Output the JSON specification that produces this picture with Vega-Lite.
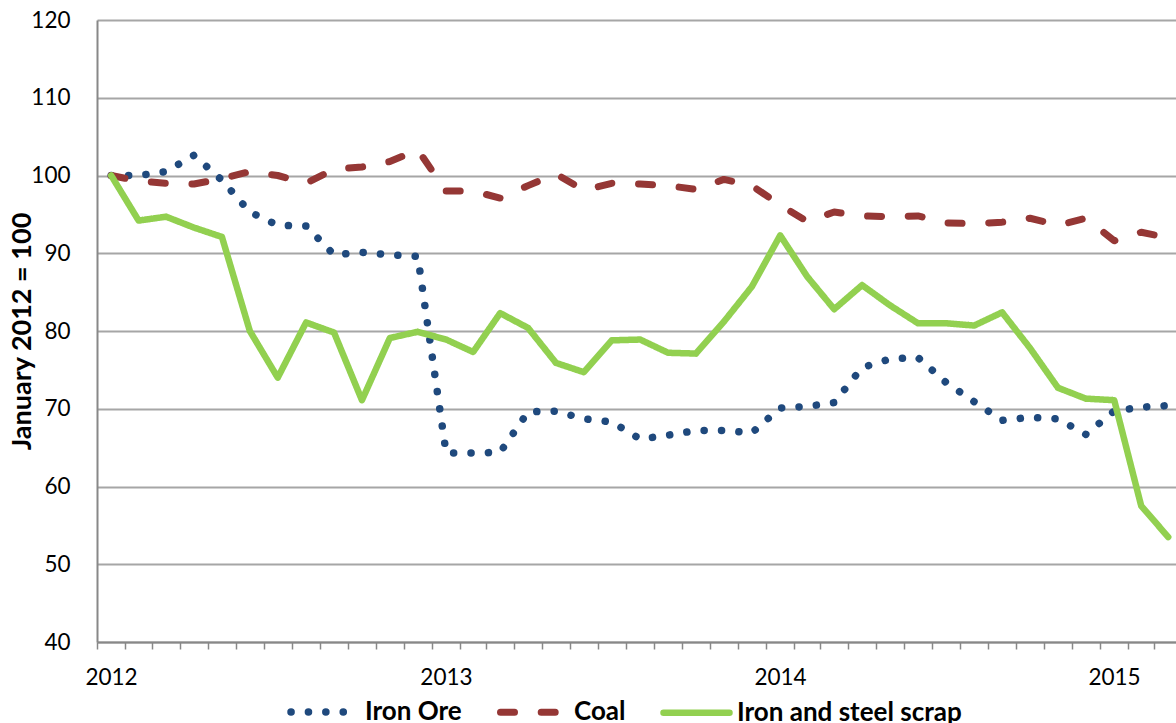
{
  "$schema": "https://vega.github.io/schema/vega-lite/v6.json",
  "width": 1079,
  "height": 622,
  "autosize": {"type": "none"},
  "padding": {"left": 97, "top": 20, "right": 0, "bottom": 81},
  "background": "white",
  "config": {"view": {"stroke": null}, "font": "Lato"},
  "data": {
    "values": [
      {"month": "2012-01", "Iron Ore": 100.0, "Coal": 100.0, "Iron and steel scrap": 100.0},
      {"month": "2012-02", "Iron Ore": 100.0, "Coal": 99.3, "Iron and steel scrap": 94.2},
      {"month": "2012-03", "Iron Ore": 100.5, "Coal": 99.0, "Iron and steel scrap": 94.7},
      {"month": "2012-04", "Iron Ore": 102.6, "Coal": 98.9, "Iron and steel scrap": 93.3},
      {"month": "2012-05", "Iron Ore": 99.4, "Coal": 99.6, "Iron and steel scrap": 92.1},
      {"month": "2012-06", "Iron Ore": 95.3, "Coal": 100.5, "Iron and steel scrap": 80.0},
      {"month": "2012-07", "Iron Ore": 93.6, "Coal": 100.0, "Iron and steel scrap": 74.0},
      {"month": "2012-08", "Iron Ore": 93.5, "Coal": 99.0, "Iron and steel scrap": 81.1},
      {"month": "2012-09", "Iron Ore": 89.8, "Coal": 100.8, "Iron and steel scrap": 79.8},
      {"month": "2012-10", "Iron Ore": 90.1, "Coal": 101.1, "Iron and steel scrap": 71.1},
      {"month": "2012-11", "Iron Ore": 89.8, "Coal": 101.8, "Iron and steel scrap": 79.1},
      {"month": "2012-12", "Iron Ore": 89.6, "Coal": 103.3, "Iron and steel scrap": 79.9},
      {"month": "2013-01", "Iron Ore": 64.3, "Coal": 98.0, "Iron and steel scrap": 78.9},
      {"month": "2013-02", "Iron Ore": 64.3, "Coal": 98.0, "Iron and steel scrap": 77.3},
      {"month": "2013-03", "Iron Ore": 64.4, "Coal": 97.1, "Iron and steel scrap": 82.3},
      {"month": "2013-04", "Iron Ore": 69.6, "Coal": 98.7, "Iron and steel scrap": 80.4},
      {"month": "2013-05", "Iron Ore": 69.7, "Coal": 100.2, "Iron and steel scrap": 75.9},
      {"month": "2013-06", "Iron Ore": 68.7, "Coal": 98.1, "Iron and steel scrap": 74.7},
      {"month": "2013-07", "Iron Ore": 68.3, "Coal": 99.0, "Iron and steel scrap": 78.8},
      {"month": "2013-08", "Iron Ore": 66.1, "Coal": 98.9, "Iron and steel scrap": 78.9},
      {"month": "2013-09", "Iron Ore": 66.6, "Coal": 98.7, "Iron and steel scrap": 77.2},
      {"month": "2013-10", "Iron Ore": 67.2, "Coal": 98.2, "Iron and steel scrap": 77.1},
      {"month": "2013-11", "Iron Ore": 67.2, "Coal": 99.5, "Iron and steel scrap": 81.2},
      {"month": "2013-12", "Iron Ore": 66.9, "Coal": 98.7, "Iron and steel scrap": 85.7},
      {"month": "2014-01", "Iron Ore": 70.1, "Coal": 96.2, "Iron and steel scrap": 92.3},
      {"month": "2014-02", "Iron Ore": 70.3, "Coal": 94.1, "Iron and steel scrap": 87.0},
      {"month": "2014-03", "Iron Ore": 70.8, "Coal": 95.3, "Iron and steel scrap": 82.8},
      {"month": "2014-04", "Iron Ore": 75.3, "Coal": 94.8, "Iron and steel scrap": 85.9},
      {"month": "2014-05", "Iron Ore": 76.4, "Coal": 94.7, "Iron and steel scrap": 83.3},
      {"month": "2014-06", "Iron Ore": 76.6, "Coal": 94.8, "Iron and steel scrap": 81.0},
      {"month": "2014-07", "Iron Ore": 73.4, "Coal": 93.9, "Iron and steel scrap": 81.0},
      {"month": "2014-08", "Iron Ore": 70.9, "Coal": 93.8, "Iron and steel scrap": 80.7},
      {"month": "2014-09", "Iron Ore": 68.5, "Coal": 94.0, "Iron and steel scrap": 82.4},
      {"month": "2014-10", "Iron Ore": 68.9, "Coal": 94.5, "Iron and steel scrap": 77.8},
      {"month": "2014-11", "Iron Ore": 68.7, "Coal": 93.6, "Iron and steel scrap": 72.7},
      {"month": "2014-12", "Iron Ore": 66.7, "Coal": 94.5, "Iron and steel scrap": 71.3},
      {"month": "2015-01", "Iron Ore": 69.7, "Coal": 91.6, "Iron and steel scrap": 71.1},
      {"month": "2015-02", "Iron Ore": 70.2, "Coal": 92.7, "Iron and steel scrap": 57.5},
      {"month": "2015-03", "Iron Ore": 70.4, "Coal": 92.0, "Iron and steel scrap": 53.5}
    ]
  },
  "transform": [
    {"fold": ["Iron Ore", "Coal", "Iron and steel scrap"], "as": ["series", "value"]}
  ],
  "mark": {"type": "line", "strokeCap": "round", "strokeJoin": "round"},
  "encoding": {
    "x": {
      "field": "month",
      "type": "temporal",
      "timeUnit": "utcyearmonth",
      "bandPosition": 0.5,
      "scale": {
        "domain": [
          {"year": 2012, "month": 1, "date": 1, "utc": true},
          {"year": 2015, "month": 3, "date": 25, "utc": true}
        ]
      },
      "axis": {
        "title": null,
        "grid": false,
        "tickCount": {"interval": "month", "step": 1},
        "labelExpr": "utcmonth(datum.value) == 0 ? utcFormat(datum.value, '%Y') : ''",
        "labelOffset": 14,
        "labelOverlap": false,
        "labelFlush": false,
        "labelBound": false,
        "labelFontSize": 22.5,
        "labelColor": "#000000",
        "labelPadding": 17,
        "tickSize": 7,
        "tickWidth": 1.5,
        "tickColor": "#888888",
        "domainColor": "#888888",
        "domainWidth": 2
      }
    },
    "y": {
      "field": "value",
      "type": "quantitative",
      "scale": {"domain": [40, 120], "nice": false},
      "axis": {
        "values": [40, 50, 60, 70, 80, 90, 100, 110, 120],
        "title": "January 2012 = 100",
        "titleFontWeight": "bold",
        "titleFontSize": 27,
        "titleColor": "#000000",
        "titlePadding": -6,
        "ticks": false,
        "labelPadding": 27,
        "labelFontSize": 22.5,
        "labelColor": "#000000",
        "domainColor": "#888888",
        "domainWidth": 2,
        "gridColor": "#A6A6A6",
        "gridWidth": 2
      }
    },
    "strokeWidth": {
      "field": "series",
      "type": "nominal",
      "scale": {
        "domain": ["Iron Ore", "Coal", "Iron and steel scrap"],
        "range": [7.5, 6.5, 6.2]
      },
      "legend": null
    },
    "color": {
      "field": "series",
      "type": "nominal",
      "sort": ["Iron Ore", "Coal", "Iron and steel scrap"],
      "scale": {
        "domain": ["Iron Ore", "Coal", "Iron and steel scrap"],
        "range": ["#1F497D", "#953735", "#92D050"]
      },
      "legend": {
        "title": null,
        "orient": "none",
        "legendX": 190,
        "legendY": 655,
        "direction": "horizontal",
        "symbolType": "stroke",
        "symbolSize": 4356,
        "symbolStrokeWidth": 6.5,
        "labelFontSize": 26,
        "labelFontWeight": "bold",
        "labelColor": "#000000",
        "labelOffset": 4,
        "columnPadding": 24,
        "labelLimit": 400,
        "encode": {"symbols": {"update": {"strokeCap": {"value": "round"}}}}
      }
    },
    "strokeDash": {
      "field": "series",
      "type": "nominal",
      "sort": ["Iron Ore", "Coal", "Iron and steel scrap"],
      "scale": {
        "domain": ["Iron Ore", "Coal", "Iron and steel scrap"],
        "range": [[0.1, 17.3], [14, 26.7], [1, 0]]
      },
      "legend": {
        "title": null,
        "orient": "none",
        "legendX": 190,
        "legendY": 655,
        "direction": "horizontal",
        "symbolType": "stroke",
        "symbolSize": 4356,
        "symbolStrokeWidth": 6.5,
        "labelFontSize": 26,
        "labelFontWeight": "bold",
        "labelColor": "#000000",
        "labelOffset": 4,
        "columnPadding": 24,
        "labelLimit": 400,
        "encode": {"symbols": {"update": {"strokeCap": {"value": "round"}}}}
      }
    }
  }
}
